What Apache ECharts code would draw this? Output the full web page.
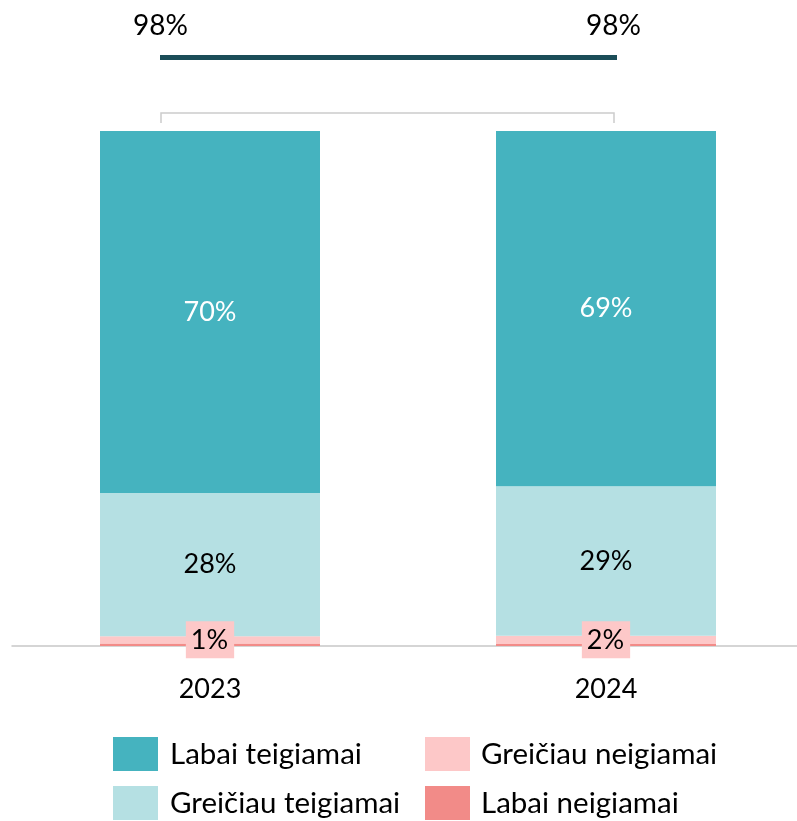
<!DOCTYPE html>
<html>
<head>
<meta charset="utf-8">
<script src="https://cdn.jsdelivr.net/npm/echarts@6/dist/echarts.min.js"></script>
<style>
    html, body { margin: 0; padding: 0; background: #fff; }
    #dom { width: 797px; height: 821px; }
</style>
</head>
<body>
<div id="dom"></div>
<script>
    // data
    var years = ['2023', '2024'];
    var labaiTeigiamai = [70.3, 69];
    var greiciauTeigiamai = [27.8, 29];
    var greiciauNeigiamai = [1.4, 1.6];
    var labaiNeigiamai = [0.5, 0.4];

    var FONT = 'Lato';
    var colors = {
        labaiTeig: '#45b3bf',
        greicTeig: '#b5e0e3',
        greicNeig: '#fdc8c8',
        labaiNeig: '#f28b88'
    };

    // positive share = top two groups
    var positive = years.map(function (y, i) {
        return Math.round(labaiTeigiamai[i] + greiciauTeigiamai[i]);
    });

    function pct(p) {
        return Math.round(p.value) + '%';
    }

    // one legend block per entry, 2x2 grid
    function legendItem(name, left, top, gap) {
        return {
            left: left,
            top: top,
            itemWidth: 45,
            itemHeight: 34,
            icon: 'rect',
            textStyle: { fontFamily: FONT, fontSize: 29.5, color: '#000', padding: [0, 0, 0, gap] },
            data: [name]
        };
    }

    var dom = echarts.init(document.getElementById('dom'));
    var option = {
        backgroundColor: '#fff',
        animation: false,
        textStyle: { fontFamily: FONT },
        grid: {
            left: 12,
            width: 792,
            top: 131,
            bottom: 175,
            outerBoundsMode: 'none'
        },
        legend: [
            legendItem('Labai teigiamai', 108, 732, 7),
            legendItem('Greičiau teigiamai', 108, 781, 7),
            legendItem('Greičiau neigiamai', 420, 732, 6),
            legendItem('Labai neigiamai', 420, 781, 6)
        ],
        xAxis: {
            type: 'category',
            data: years,
            axisTick: { show: false },
            axisLine: { lineStyle: { color: '#c8c8c8', width: 1.5 } },
            axisLabel: { fontFamily: FONT, fontSize: 27, color: '#000', margin: 30 }
        },
        yAxis: {
            type: 'value',
            min: 0,
            max: 100,
            show: false
        },
        series: [{
            name: 'Labai neigiamai',
            type: 'bar',
            stack: 'all',
            barWidth: 220,
            itemStyle: { color: colors.labaiNeig },
            data: labaiNeigiamai
        }, {
            name: 'Greičiau neigiamai',
            type: 'bar',
            stack: 'all',
            barWidth: 220,
            itemStyle: { color: colors.greicNeig },
            label: {
                show: true,
                position: 'inside',
                formatter: pct,
                fontFamily: FONT,
                fontSize: 27,
                color: '#000',
                backgroundColor: colors.greicNeig,
                padding: [6, 6, 4, 5]
            },
            data: greiciauNeigiamai
        }, {
            name: 'Greičiau teigiamai',
            type: 'bar',
            stack: 'all',
            barWidth: 220,
            itemStyle: { color: colors.greicTeig },
            label: {
                show: true,
                position: 'inside',
                formatter: pct,
                fontFamily: FONT,
                fontSize: 27,
                color: '#000'
            },
            data: greiciauTeigiamai
        }, {
            name: 'Labai teigiamai',
            type: 'bar',
            stack: 'all',
            barWidth: 220,
            itemStyle: { color: colors.labaiTeig },
            label: {
                show: true,
                position: 'inside',
                formatter: pct,
                fontFamily: FONT,
                fontSize: 27,
                color: '#fff'
            },
            data: labaiTeigiamai
        }],
        // top annotation: positive share in both years
        graphic: [{
            type: 'text',
            left: 133,
            top: 12,
            style: { text: positive[0] + '%', font: '28px ' + FONT, fill: '#000' }
        }, {
            type: 'text',
            left: 586,
            top: 12,
            style: { text: positive[1] + '%', font: '28px ' + FONT, fill: '#000' }
        }, {
            type: 'line',
            shape: { x1: 160, y1: 57.5, x2: 617, y2: 57.5 },
            style: { stroke: '#1b4d58', lineWidth: 5 }
        }, {
            type: 'polyline',
            shape: { points: [[161, 123], [161, 113], [614, 113], [614, 123]] },
            style: { stroke: '#cccccc', lineWidth: 1.5, fill: null }
        }]
    };
    dom.setOption(option);
</script>
</body>
</html>
